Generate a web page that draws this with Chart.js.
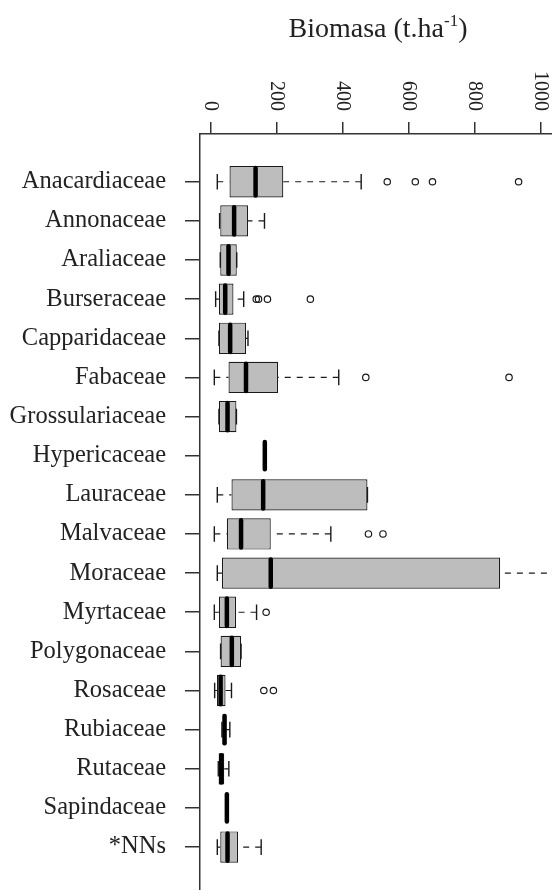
<!DOCTYPE html>
<html>
<head>
<meta charset="utf-8">
<script src="https://cdn.jsdelivr.net/npm/chart.js@4.4.1/dist/chart.umd.min.js"></script>
<style>
  html, body { margin: 0; padding: 0; background: #fff; overflow: hidden; width: 552px; height: 890px; }
  #wrap { position: absolute; left: 0; top: 0; width: 620px; height: 900px; }
</style>
</head>
<body>
<div id="wrap"><canvas id="chart" width="620" height="900"></canvas></div>
<script>
// Plant families, top to bottom
const families = [
  'Anacardiaceae', 'Annonaceae', 'Araliaceae', 'Burseraceae', 'Capparidaceae',
  'Fabaceae', 'Grossulariaceae', 'Hypericaceae', 'Lauraceae', 'Malvaceae',
  'Moraceae', 'Myrtaceae', 'Polygonaceae', 'Rosaceae', 'Rubiaceae',
  'Rutaceae', 'Sapindaceae', '*NNs'
];

// Five-number summaries of biomass (t/ha) per family
const lowerWhisker = [20, 27, 29, 15, 25, 11, 25, 164, 20, 11, 20, 11, 30, 12, 34, 23, 49, 20];
const q1           = [57, 29, 29, 25, 25, 54, 25, 164, 63, 49, 34, 25, 30, 19, 36, 24, 49, 29];
const median       = [136, 71, 54, 44, 59, 107, 51, 164, 159, 92, 182, 49, 64, 30, 42, 32, 49, 51];
const q3           = [220, 113, 79, 69, 107, 204, 78, 164, 475, 182, 877, 77, 92, 45, 47, 41, 49, 83];
const upperWhisker = [456, 163, 79, 100, 113, 388, 78, 164, 475, 364, 1055, 139, 92, 63, 58, 55, 49, 153];

// Values beyond the whiskers
const outliers = [
  [535, 620, 672, 933], [], [], [138, 145, 172, 302], [],
  [470, 904], [], [], [], [478, 522],
  [], [168], [], [161, 190], [],
  [], [], []
];

// Biomass axis tick values
const xTicks = [0, 200, 400, 600, 800, 1000];

const serif = "'Liberation Serif', 'Times New Roman', serif";
const ink = '#222';

const rows = families.map((f, i) => i + 1);

// Whiskers, staples and medians drawn on top of the boxes
const boxDetails = {
  id: 'boxDetails',
  afterDatasetsDraw(chart) {
    const { ctx, scales: { x, y } } = chart;
    const meta = chart.getDatasetMeta(0);
    const px = v => x.getPixelForValue(v);
    ctx.save();
    families.forEach((f, i) => {
      const half = meta.data[i].height / 2;
      const yc = y.getPixelForValue(rows[i]);
      ctx.strokeStyle = '#1a1a1a';
      ctx.lineWidth = 1.2;
      ctx.lineCap = 'butt';
      ctx.setLineDash([6, 6]);
      ctx.beginPath();
      if (lowerWhisker[i] < q1[i]) { ctx.moveTo(px(lowerWhisker[i]), yc); ctx.lineTo(px(q1[i]), yc); }
      if (upperWhisker[i] > q3[i]) { ctx.moveTo(px(upperWhisker[i]), yc); ctx.lineTo(px(q3[i]), yc); }
      ctx.stroke();
      ctx.setLineDash([]);
      ctx.lineWidth = 1.4;
      ctx.beginPath();
      [lowerWhisker[i], upperWhisker[i]].forEach(v => {
        ctx.moveTo(px(v), yc - half / 2);
        ctx.lineTo(px(v), yc + half / 2);
      });
      ctx.stroke();
      ctx.strokeStyle = '#000';
      ctx.lineWidth = 4.5;
      ctx.lineCap = 'round';
      ctx.beginPath();
      ctx.moveTo(px(median[i]), yc - half + 2);
      ctx.lineTo(px(median[i]), yc + half - 2);
      ctx.stroke();
    });
    ctx.restore();
  }
};

// Rotated tick labels on the top axis and the axis title
const topAxisText = {
  id: 'topAxisText',
  afterDraw(chart) {
    const { ctx, scales: { x }, chartArea } = chart;
    ctx.save();
    ctx.fillStyle = ink;
    ctx.font = '20px ' + serif;
    ctx.textAlign = 'right';
    ctx.textBaseline = 'middle';
    x.ticks.forEach(t => {
      ctx.save();
      ctx.translate(x.getPixelForValue(t.value), x.bottom - 23);
      ctx.rotate(Math.PI / 2);
      ctx.fillText(String(t.value), 0, 0);
      ctx.restore();
    });

    const main = 'Biomasa (t.ha';
    const sup = '-1';
    const close = ')';
    const bigFont = '28px ' + serif;
    const smallFont = '17px ' + serif;
    ctx.font = bigFont;
    const w1 = ctx.measureText(main).width;
    const w3 = ctx.measureText(close).width;
    ctx.font = smallFont;
    const w2 = ctx.measureText(sup).width;
    const total = w1 + w2 + w3;
    let cx = (chartArea.left + chartArea.right) / 2 - total / 2 - 8;
    const base = 37;
    ctx.textAlign = 'left';
    ctx.textBaseline = 'alphabetic';
    ctx.font = bigFont;
    ctx.fillText(main, cx, base);
    cx += w1;
    ctx.font = smallFont;
    ctx.fillText(sup, cx, base - 11);
    cx += w2;
    ctx.font = bigFont;
    ctx.fillText(close, cx, base);
    ctx.restore();
  }
};

new Chart(document.getElementById('chart'), {
  data: {
    datasets: [
      {
        type: 'bar',
        data: families.map((f, i) => ({ x: [q1[i], q3[i]], y: rows[i] })),
        backgroundColor: '#bdbdbd',
        borderColor: '#1a1a1a',
        borderWidth: 1.2,
        borderSkipped: false,
        categoryPercentage: 1,
        barPercentage: 0.8
      },
      {
        type: 'scatter',
        data: outliers.flatMap((vals, i) => vals.map(v => ({ x: v, y: rows[i] }))),
        pointStyle: 'circle',
        pointRadius: 3.2,
        pointBorderWidth: 1.2,
        borderColor: '#1a1a1a',
        backgroundColor: 'rgba(255,255,255,0)',
        showLine: false
      }
    ]
  },
  options: {
    indexAxis: 'y',
    responsive: false,
    animation: false,
    layout: { padding: { left: 0, top: 0, right: 48, bottom: 4 } },
    plugins: { legend: { display: false }, tooltip: { enabled: false }, title: { display: false } },
    scales: {
      x: {
        type: 'linear',
        position: 'top',
        offset: false,
        min: -32.4,
        max: 1094.8,
        afterBuildTicks: s => { s.ticks = xTicks.map(v => ({ value: v })); },
        afterFit: s => { s.height = 134; s.paddingLeft = 0; s.paddingRight = 0; },
        ticks: { display: false },
        grid: { offset: false, drawOnChartArea: false, drawTicks: true, tickLength: 12, color: '#333', lineWidth: 1.5 },
        border: { display: true, color: '#333', width: 1.5 }
      },
      y: {
        type: 'linear',
        reverse: true,
        offset: false,
        min: -0.22,
        max: 19.22,
        afterBuildTicks: s => { s.ticks = rows.map(v => ({ value: v })); },
        afterFit: s => { s.width = 200; s.paddingTop = 0; s.paddingBottom = 0; },
        ticks: {
          autoSkip: false,
          padding: 19,
          color: ink,
          font: { family: serif, size: 24.5 },
          callback: v => families[Math.round(v) - 1]
        },
        grid: { offset: false, drawOnChartArea: false, drawTicks: true, tickLength: 15, color: '#333', lineWidth: 1.5 },
        border: { display: true, color: '#333', width: 1.5 }
      }
    }
  },
  plugins: [boxDetails, topAxisText]
});
</script>
</body>
</html>
